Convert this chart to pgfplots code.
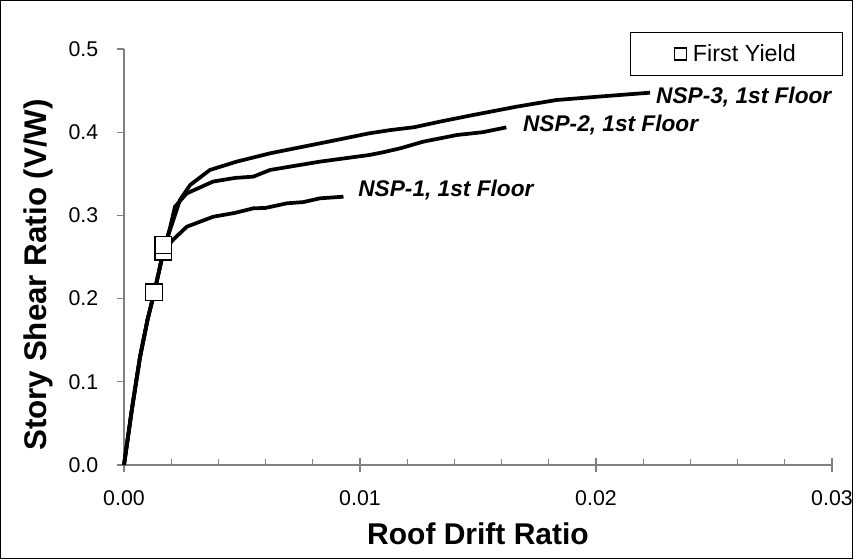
\documentclass[border=0pt]{standalone}
\usepackage{fontspec}
\setmainfont{Liberation Sans}
\usepackage{pgfplots}
\pgfplotsset{compat=1.18}

\begin{document}
\begin{tikzpicture}
\useasboundingbox (0,0) rectangle (639.75pt,419.25pt);
\draw[line width=0.75pt] (0.375pt,0.375pt) rectangle (639.375pt,418.875pt);
\begin{axis}[
  at={(93pt,70.5pt)}, anchor=south west,
  scale only axis, width=531pt, height=312pt,
  xmin=0, xmax=0.03, ymin=0, ymax=0.5,
  clip=false,
  axis x line*=bottom, axis y line*=left,
  xtick={0,0.01,0.02,0.03}, minor x tick num=4,
  ytick={0,0.1,0.2,0.3,0.4,0.5},
  xtick align=inside, ytick align=outside,
  major tick length=5.25pt, minor tick length=4.5pt,
  extra x ticks={0,0.01,0.02,0.03}, extra x tick labels={},
  extra x tick style={xtick align=outside},
  axis line style={draw=gray, line width=0.9pt},
  tick style={draw=gray, line width=0.9pt},
  scaled x ticks=false, scaled y ticks=false,
  /pgf/number format/assume math mode=true,
  xticklabel style={/pgf/number format/fixed, /pgf/number format/fixed zerofill,
    /pgf/number format/precision=2, yshift=-16pt},
  yticklabel style={/pgf/number format/fixed, /pgf/number format/fixed zerofill,
    /pgf/number format/precision=1, xshift=-10.5pt},
  tick label style={font=\fontsize{16}{19}\selectfont},
  xlabel={Roof Drift Ratio},
  xlabel style={at={(rel axis cs:0.5,0)}, anchor=base, yshift=-60pt,
    font=\fontsize{22.5}{26}\selectfont\bfseries},
  ylabel={Story Shear Ratio (V/W)},
  ylabel style={at={([xshift=-64.5pt]rel axis cs:0,0.457)}, anchor=center,
    font=\fontsize{23.5}{27}\selectfont\bfseries},
  legend style={at={(rel axis cs:1.0155,1.0409)}, anchor=north east,
    draw=black, line width=0.75pt, inner xsep=33pt, inner ysep=7pt,
    font=\fontsize{17.5}{20}\selectfont},
  legend image code/.code={\draw[mark size=4.5pt, line width=0.9pt, mark=square*,
    mark options={fill=white, solid}] plot coordinates {(0.25cm,0cm)};},
]
% NSP-1
\addplot[black, line width=2.8pt, line join=round, forget plot] coordinates {
  (0,0) (0.00035,0.070) (0.00068,0.130) (0.00100,0.175) (0.00128,0.207)
  (0.00150,0.235) (0.00167,0.255) (0.00185,0.263) (0.00209,0.271)
  (0.00266,0.2864) (0.00378,0.2984) (0.00470,0.3030) (0.00548,0.3085)
  (0.0060,0.3090) (0.0069,0.3145) (0.0076,0.3160) (0.0083,0.3205) (0.0093,0.3225)
};
% NSP-2
\addplot[black, line width=2.8pt, line join=round, forget plot] coordinates {
  (0,0) (0.00035,0.070) (0.00068,0.130) (0.00100,0.175) (0.00128,0.207)
  (0.00150,0.235) (0.00167,0.258) (0.00195,0.285) (0.00216,0.3105)
  (0.00266,0.3265) (0.00378,0.3407) (0.00470,0.3450) (0.00548,0.3466)
  (0.00619,0.3546) (0.0083,0.3646) (0.0104,0.3726) (0.0110,0.3760)
  (0.0117,0.3806) (0.01268,0.3886) (0.0141,0.3966) (0.0152,0.4000) (0.0162,0.4058)
};
% NSP-3
\addplot[black, line width=2.8pt, line join=round, forget plot] coordinates {
  (0,0) (0.00035,0.070) (0.00068,0.130) (0.00100,0.175) (0.00128,0.207)
  (0.00150,0.235) (0.00167,0.258) (0.00195,0.2825) (0.00237,0.3185)
  (0.0028,0.3365) (0.00364,0.3546) (0.00477,0.3646) (0.00619,0.3746)
  (0.0076,0.3826) (0.009,0.3906) (0.0104,0.3987) (0.0113,0.4026)
  (0.0123,0.4060) (0.01339,0.4127) (0.0148,0.4207) (0.01664,0.4307)
  (0.01833,0.4387) (0.02045,0.4435) (0.02229,0.4475)
};
% first yield
\addplot[only marks, mark=square*, mark size=6.3pt,
  mark options={fill=white, draw=black, line width=1pt}] coordinates {
  (0.00128,0.2075) (0.00167,0.2564) (0.00167,0.2644)
};
\addlegendentry{\hspace{3pt}First Yield}
\node[anchor=west, inner sep=0, font=\fontsize{17}{20}\selectfont\bfseries\itshape]
  at (axis cs:0.02254,0.4423) {NSP-3, 1st Floor};
\node[anchor=west, inner sep=0, font=\fontsize{17}{20}\selectfont\bfseries\itshape]
  at (axis cs:0.01690,0.4087) {NSP-2, 1st Floor};
\node[anchor=west, inner sep=0, font=\fontsize{17}{20}\selectfont\bfseries\itshape]
  at (axis cs:0.00992,0.3300) {NSP-1, 1st Floor};
\end{axis}
\end{tikzpicture}
\end{document}
